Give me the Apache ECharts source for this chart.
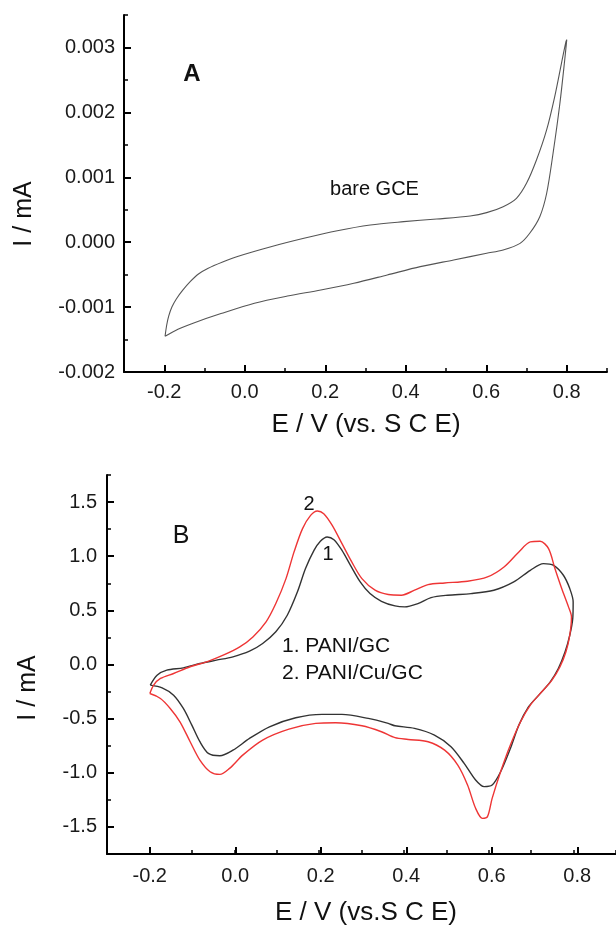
<!DOCTYPE html>
<html><head><meta charset="utf-8">
<script src="https://cdn.jsdelivr.net/npm/echarts@6/dist/echarts.min.js"></script>
<style>html,body{margin:0;padding:0;background:#fff}#c{width:616px;height:928px}</style>
</head><body><div id="c"></div>
<script>
// ---------- Panel A: bare GCE (E / V, I / mA) ----------
const bareE = [-0.198,-0.194,-0.189,-0.181,-0.170,-0.154,-0.135,-0.115,-0.092,-0.055,-0.018,0.065,0.147,0.230,0.312,0.395,0.477,0.560,0.601,0.642,0.675,0.700,0.725,0.750,0.770,0.787,0.798,0.800,
  0.795,0.783,0.766,0.750,0.733,0.708,0.684,0.642,0.601,0.519,0.436,0.354,0.271,0.189,0.106,0.024,-0.059,-0.125,-0.166,-0.198];
const bareI = [-0.00145,-0.00128,-0.00114,-0.00100,-0.000875,-0.00074,-0.000605,-0.00049,-0.000405,-0.000305,-0.00022,-0.00007,0.00006,0.000177,0.000265,0.000316,0.000357,0.000404,0.000455,0.000547,0.000676,0.000907,0.00127,0.00173,0.00224,0.00276,0.00309,0.00312,
  0.00281,0.00214,0.00137,0.00075,0.000393,0.000137,-0.000018,-0.00012,-0.000171,-0.000274,-0.000377,-0.000505,-0.000633,-0.000737,-0.00083,-0.00094,-0.00110,-0.00124,-0.00134,-0.00145];

// ---------- Panel B: 1. PANI/GC (black) ----------
const pgcE = [-0.198,-0.182,-0.159,-0.120,-0.081,-0.042,-0.003,0.036,0.067,0.098,0.125,0.149,0.168,0.188,0.203,0.219,0.235,0.254,0.274,0.297,0.320,0.347,0.379,0.402,0.433,0.464,0.503,0.558,0.612,0.659,0.698,0.729,0.753,0.776,0.791,0.799,
  0.798,0.791,0.780,0.764,0.745,0.718,0.694,0.671,0.651,0.628,0.608,0.589,0.569,0.542,0.511,0.472,0.425,0.379,0.363,0.316,0.254,0.207,0.145,0.083,0.036,-0.003,-0.034,-0.061,-0.081,-0.100,-0.120,-0.143,-0.170,-0.198];
const pgcI = [-0.19,-0.099,-0.052,-0.031,0.009,0.040,0.071,0.123,0.194,0.302,0.455,0.671,0.886,1.054,1.138,1.178,1.153,1.054,0.916,0.763,0.655,0.584,0.541,0.532,0.563,0.618,0.640,0.655,0.686,0.763,0.870,0.932,0.916,0.824,0.701,0.578,
  0.424,0.270,0.117,-0.037,-0.160,-0.283,-0.390,-0.560,-0.775,-0.990,-1.113,-1.128,-1.067,-0.913,-0.759,-0.652,-0.590,-0.566,-0.544,-0.498,-0.461,-0.461,-0.492,-0.575,-0.683,-0.791,-0.843,-0.821,-0.713,-0.560,-0.406,-0.283,-0.215,-0.19];

// ---------- Panel B: 2. PANI/Cu/GC (red) ----------
const pcuE = [-0.199,-0.190,-0.174,-0.143,-0.104,-0.065,-0.026,0.013,0.044,0.075,0.098,0.122,0.141,0.161,0.180,0.196,0.211,0.231,0.254,0.277,0.301,0.332,0.363,0.394,0.425,0.457,0.496,0.550,0.597,0.636,0.671,0.698,0.721,0.741,0.756,0.772,0.788,0.795,
  0.791,0.782,0.768,0.749,0.725,0.698,0.675,0.651,0.628,0.608,0.597,0.585,0.569,0.550,0.527,0.496,0.457,0.410,0.379,0.347,0.301,0.239,0.192,0.129,0.067,0.020,-0.011,-0.034,-0.057,-0.081,-0.104,-0.128,-0.151,-0.174,-0.199];
const pcuI = [-0.268,-0.19,-0.129,-0.083,-0.021,0.025,0.086,0.163,0.255,0.394,0.563,0.793,1.040,1.255,1.377,1.418,1.393,1.285,1.116,0.947,0.793,0.686,0.646,0.640,0.686,0.738,0.753,0.769,0.809,0.901,1.040,1.132,1.138,1.070,0.886,0.701,0.532,0.440,
  0.270,0.117,-0.021,-0.145,-0.252,-0.375,-0.529,-0.744,-0.990,-1.236,-1.405,-1.421,-1.328,-1.113,-0.929,-0.791,-0.713,-0.692,-0.676,-0.621,-0.566,-0.538,-0.544,-0.597,-0.698,-0.837,-0.959,-1.015,-0.990,-0.883,-0.713,-0.529,-0.406,-0.314,-0.268];

// ---------- tick labels ----------
const xTickLabels = ['-0.2','0.0','0.2','0.4','0.6','0.8'];
const aYTickLabels = ['-0.002','-0.001','0.000','0.001','0.002','0.003'];
const bYTickLabels = ['-1.5','-1.0','-0.5','0.0','0.5','1.0','1.5'];

const FONT = '"Liberation Sans", Arial, sans-serif';
const zip = (a, b) => a.map((v, i) => [v, b[i]]);

// main plot frames (layout)
const gA = {left: 124, top: 15, width: 483, height: 357, xMin: -0.3, xMax: 0.9, yMin: -0.002, yMax: 0.0035};
const gB = {left: 107, top: 475, width: 513, height: 379, xMin: -0.3, xMax: 0.9, yMin: -1.75, yMax: 1.75};

function subGrid(g, x0, x1, y0, y1) {
  const px = v => g.left + (v - g.xMin) / (g.xMax - g.xMin) * g.width;
  const py = v => g.top + (g.yMax - v) / (g.yMax - g.yMin) * g.height;
  const l = px(x0), r = px(x1), t = py(y1), b = py(y0);
  return {grid: {left: l, top: t, width: r - l, height: b - t},
          xOff: (g.top + g.height) - b, yOff: l - g.left};
}
const sA = subGrid(gA, -0.2, 0.8, -0.002, 0.003);
const sB = subGrid(gB, -0.2, 0.8, -1.5, 1.5);

const lineAx = {show: true, onZero: false, lineStyle: {color: '#000', width: 2}};
const hiddenAx = {show: false, onZero: false};
const minorTick = {show: true, inside: true, length: 4, lineStyle: {color: '#000', width: 1.5}};
const majorTick = {show: true, inside: true, length: 7, lineStyle: {color: '#000', width: 2}};
const lblStyle = {fontFamily: FONT, fontSize: 20, color: '#1a1a1a'};
const pick = (arr, start, step) => v => { const i = Math.round((v - start) / step); return arr[i] !== undefined ? arr[i] : ''; };

function mainX(gi, g) { return {type: 'value', gridIndex: gi, min: g.xMin, max: g.xMax, interval: 0.1, axisLine: lineAx, axisTick: minorTick, axisLabel: {show: false}, splitLine: {show: false}}; }
function mainY(gi, g, iv) { return {type: 'value', gridIndex: gi, min: g.yMin, max: g.yMax, interval: iv, axisLine: lineAx, axisTick: minorTick, axisLabel: {show: false}, splitLine: {show: false}}; }

const option = {
  animation: false,
  backgroundColor: '#fff',
  grid: [
    {left: gA.left, top: gA.top, width: gA.width, height: gA.height},
    sA.grid,
    {left: gB.left, top: gB.top, width: gB.width, height: gB.height},
    sB.grid
  ],
  xAxis: [
    mainX(0, gA),
    {type: 'value', gridIndex: 1, position: 'bottom', min: -0.2, max: 0.8, interval: 0.2, offset: sA.xOff, axisLine: hiddenAx, axisTick: majorTick,
     axisLabel: Object.assign({margin: 10, formatter: pick(xTickLabels, -0.2, 0.2)}, lblStyle), splitLine: {show: false}},
    mainX(2, gB),
    {type: 'value', gridIndex: 3, position: 'bottom', min: -0.2, max: 0.8, interval: 0.2, offset: sB.xOff, axisLine: hiddenAx, axisTick: majorTick,
     axisLabel: Object.assign({margin: 12, formatter: pick(xTickLabels, -0.2, 0.2)}, lblStyle), splitLine: {show: false}}
  ],
  yAxis: [
    mainY(0, gA, 0.0005),
    {type: 'value', gridIndex: 1, position: 'left', min: -0.002, max: 0.003, interval: 0.001, offset: sA.yOff, axisLine: hiddenAx, axisTick: majorTick,
     axisLabel: Object.assign({margin: 9, formatter: pick(aYTickLabels, -0.002, 0.001)}, lblStyle), splitLine: {show: false}},
    mainY(2, gB, 0.25),
    {type: 'value', gridIndex: 3, position: 'left', min: -1.5, max: 1.5, interval: 0.5, offset: sB.yOff, axisLine: hiddenAx, axisTick: majorTick,
     axisLabel: Object.assign({margin: 10, formatter: pick(bYTickLabels, -1.5, 0.5)}, lblStyle), splitLine: {show: false}}
  ],
  series: [
    {name: 'bare GCE', type: 'line', xAxisIndex: 0, yAxisIndex: 0, data: zip(bareE, bareI), showSymbol: false, smooth: 0.3,
     lineStyle: {color: '#555', width: 1.1}, itemStyle: {color: '#555'}},
    {name: 'PANI/GC', type: 'line', xAxisIndex: 2, yAxisIndex: 2, data: zip(pgcE, pgcI), showSymbol: false, smooth: 0.3,
     lineStyle: {color: '#333', width: 1.4}, itemStyle: {color: '#333'}},
    {name: 'PANI/Cu/GC', type: 'line', xAxisIndex: 2, yAxisIndex: 2, data: zip(pcuE, pcuI), showSymbol: false, smooth: 0.3,
     lineStyle: {color: '#ee3535', width: 1.4}, itemStyle: {color: '#ee3535'}}
  ],
  graphic: [
    {type: 'text', x: 24.5, y: 214, rotation: Math.PI / 2, style: {text: 'I / mA', font: '25px ' + FONT, fill: '#111', align: 'center', verticalAlign: 'middle'}},
    {type: 'text', x: 366, y: 425, style: {text: 'E / V (vs. S C E)', font: '26px ' + FONT, fill: '#111', align: 'center', verticalAlign: 'middle'}},
    {type: 'text', x: 192, y: 74, style: {text: 'A', font: 'bold 24px ' + FONT, fill: '#111', align: 'center', verticalAlign: 'middle'}},
    {type: 'text', x: 374.5, y: 189, style: {text: 'bare GCE', font: '20px ' + FONT, fill: '#111', align: 'center', verticalAlign: 'middle'}},
    {type: 'text', x: 28, y: 688, rotation: Math.PI / 2, style: {text: 'I / mA', font: '25px ' + FONT, fill: '#111', align: 'center', verticalAlign: 'middle'}},
    {type: 'text', x: 366, y: 913, style: {text: 'E / V (vs.S C E)', font: '26px ' + FONT, fill: '#111', align: 'center', verticalAlign: 'middle'}},
    {type: 'text', x: 181, y: 536, style: {text: 'B', font: '25px ' + FONT, fill: '#111', align: 'center', verticalAlign: 'middle'}},
    {type: 'text', x: 309, y: 504, style: {text: '2', font: '20px ' + FONT, fill: '#111', align: 'center', verticalAlign: 'middle'}},
    {type: 'text', x: 328, y: 554, style: {text: '1', font: '20px ' + FONT, fill: '#111', align: 'center', verticalAlign: 'middle'}},
    {type: 'text', x: 282, y: 646.5, style: {text: '1. PANI/GC', font: '21px ' + FONT, fill: '#111', align: 'left', verticalAlign: 'middle'}},
    {type: 'text', x: 282, y: 673, style: {text: '2. PANI/Cu/GC', font: '21px ' + FONT, fill: '#111', align: 'left', verticalAlign: 'middle'}}
  ]
};
const chart = echarts.init(document.getElementById('c'), null, {renderer: 'canvas'});
chart.setOption(option);
</script></body></html>
